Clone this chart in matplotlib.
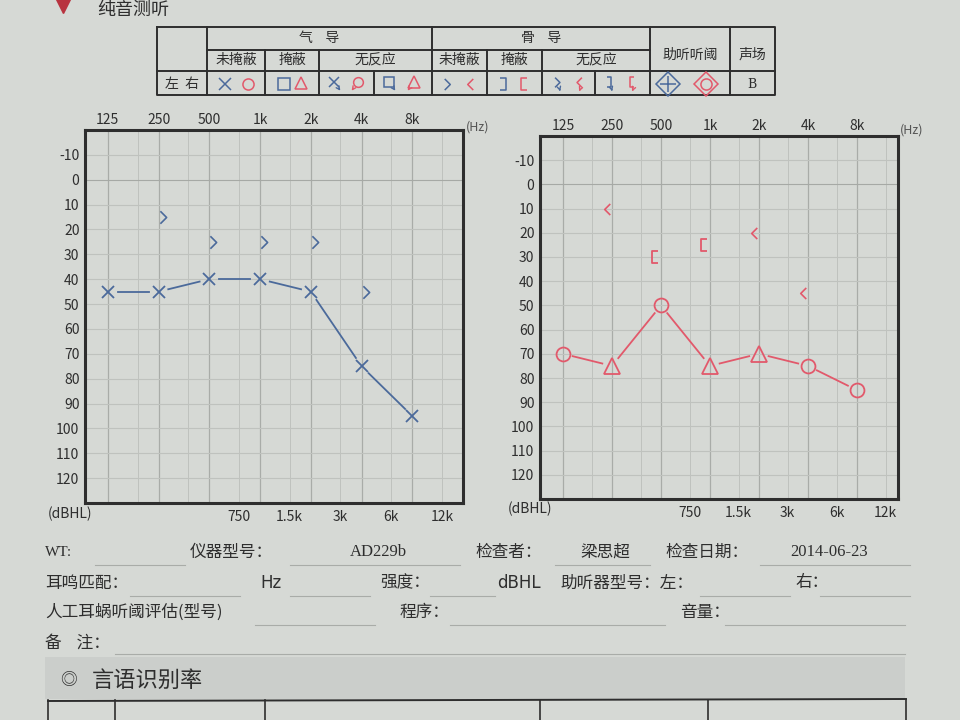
import numpy as np
import matplotlib.pyplot as plt
from matplotlib.path import Path
from matplotlib.transforms import offset_copy

plt.rcParams['font.family'] = ['Noto Sans CJK SC', 'DejaVu Sans']

# ---- data ----
freq_top = [125, 250, 500, 1000, 2000, 4000, 8000]
freq_top_labels = ['125', '250', '500', '1k', '2k', '4k', '8k']
freq_bottom = [750, 1500, 3000, 6000, 12000]
freq_bottom_labels = ['750', '1.5k', '3k', '6k', '12k']
freq_minor_grid = [187.5, 375, 750, 1500, 3000, 6000, 12000]
db_ticks = list(range(-10, 130, 10))

# left ear (blue)
left_air_freq = [125, 250, 500, 1000, 2000, 4000, 8000]
left_air_db = [45, 45, 40, 40, 45, 75, 95]
left_bone_freq = [250, 500, 1000, 2000, 4000]
left_bone_db = [15, 25, 25, 25, 45]

# right ear (red)
right_air_freq = [125, 250, 500, 1000, 2000, 4000, 8000]
right_air_db = [70, 75, 50, 75, 70, 75, 85]
right_air_masked = [False, True, False, True, True, False, False]
right_bone_freq = [250, 2000, 4000]
right_bone_db = [10, 20, 45]
right_bone_masked_freq = [500, 1000]
right_bone_masked_db = [30, 25]

BG = '#d6d9d5'
BLUE = '#4b6a9b'
RED = '#e2596b'
INK = '#2e2e2e'

# open marker shapes
chev_right = Path([(-0.5, 1), (0.5, 0), (-0.5, -1)])
chev_left = Path([(0.5, 1), (-0.5, 0), (0.5, -1)])
brack_left = Path([(0.5, 1), (-0.5, 1), (-0.5, -1), (0.5, -1)])
brack_right = Path([(-0.5, 1), (0.5, 1), (0.5, -1), (-0.5, -1)])

fig = plt.figure(figsize=(9.6, 7.2), dpi=100, facecolor=BG)

# page axes in pixel coordinates (y down)
pg = fig.add_axes([0, 0, 1, 1])
pg.set_xlim(0, 960)
pg.set_ylim(720, 0)
pg.axis('off')


def px_axes(x0, y0, x1, y1):
    return fig.add_axes([x0 / 960, 1 - y1 / 720, (x1 - x0) / 960, (y1 - y0) / 720])


def gapped_line(ax, xs, ys, gap, **kw):
    pts = ax.transData.transform(np.column_stack([xs, ys]))
    inv = ax.transData.inverted()
    for p, q in zip(pts[:-1], pts[1:]):
        d = q - p
        n = np.hypot(d[0], d[1])
        seg = inv.transform([p + d * gap / n, q - d * gap / n])
        ax.plot(seg[:, 0], seg[:, 1], **kw)


def setup_audiogram(ax, xmin, xmax):
    ax.set_facecolor(BG)
    ax.set_xscale('log', base=2)
    ax.set_xlim(xmin, xmax)
    ax.set_ylim(130, -20)
    for f in freq_top:
        ax.axvline(f, color='#a9aca8', lw=0.9, zorder=0)
    for f in freq_minor_grid:
        ax.axvline(f, color='#bfc2be', lw=0.7, zorder=0)
    for d in range(-10, 130, 10):
        ax.axhline(d, color='#a6a9a5' if d == 0 else '#bfc2be', lw=0.8, zorder=0)
    ax.set_xticks(freq_top, freq_top_labels)
    ax.set_xticks(freq_bottom, freq_bottom_labels, minor=True)
    ax.set_yticks(db_ticks, [str(d) for d in db_ticks])
    ax.tick_params(axis='x', which='major', top=False, bottom=False,
                   labeltop=True, labelbottom=False, pad=-1, labelsize=10, labelcolor=INK)
    ax.tick_params(axis='x', which='minor', top=False, bottom=False,
                   labeltop=False, labelbottom=True, pad=3, labelsize=10, labelcolor=INK)
    ax.tick_params(axis='y', length=0, pad=4, labelsize=10, labelcolor=INK)
    for s in ax.spines.values():
        s.set_color(INK)
        s.set_linewidth(2.2)


# ---- left ear audiogram ----
axL = px_axes(85, 130, 463, 503)
setup_audiogram(axL, 125 * 2 ** -0.45, 16000)
gapped_line(axL, left_air_freq, left_air_db, 10, color=BLUE, lw=1.3)
axL.plot(left_air_freq, left_air_db, ls='none', marker='x', ms=9, mew=1.3, color=BLUE)
shiftR = offset_copy(axL.transData, fig=fig, x=4, y=0, units='dots')
axL.plot(left_bone_freq, left_bone_db, ls='none', marker=chev_right, ms=9,
         mfc='none', mew=1.2, color=BLUE, transform=shiftR)
pg.text(466, 127, '(Hz)', fontsize=9, color='#555', va='center')
pg.text(48, 514, '(dBHL)', fontsize=10, color=INK, va='center')

# ---- right ear audiogram ----
axR = px_axes(540, 136, 898, 499)
setup_audiogram(axR, 125 * 2 ** -0.47, 8000 * 2 ** 0.84)
gapped_line(axR, right_air_freq, right_air_db, 10, color=RED, lw=1.3)
mask = np.array(right_air_masked)
fr = np.array(right_air_freq)
dr = np.array(right_air_db)
axR.plot(fr[~mask], dr[~mask], ls='none', marker='o', ms=10, mfc='none', mew=1.3, color=RED)
axR.plot(fr[mask], dr[mask], ls='none', marker='^', ms=11, mfc='none', mew=1.3, color=RED)
shiftL = offset_copy(axR.transData, fig=fig, x=-5, y=0, units='dots')
axR.plot(right_bone_freq, right_bone_db, ls='none', marker=chev_left, ms=8,
         mfc='none', mew=1.2, color=RED, transform=shiftL)
shiftL2 = offset_copy(axR.transData, fig=fig, x=-6, y=0, units='dots')
axR.plot(right_bone_masked_freq, right_bone_masked_db, ls='none', marker=brack_left, ms=9,
         mfc='none', mew=1.3, color=RED, transform=shiftL2)
pg.text(900, 130, '(Hz)', fontsize=9, color='#555', va='center')
pg.text(508, 509, '(dBHL)', fontsize=10, color=INK, va='center')

# ---- header fragment ----
pg.plot([63], [5], marker='v', ms=12, color='#b8333f')
pg.text(97, 1, '纯音测听', fontsize=13, color=INK, va='top')

# ---- symbol legend table ----
tx0, tx1, ty0, tyh, tys, ty1 = 157, 775, 27, 50, 71, 95
tk = dict(color=INK, lw=1.4)
pg.plot([tx0, tx1, tx1, tx0, tx0], [ty0, ty0, ty1, ty1, ty0], **tk)
for xv in [207, 432, 650, 730]:
    pg.plot([xv, xv], [ty0, ty1], **tk)
for xv in [265, 319, 487, 542]:
    pg.plot([xv, xv], [tyh, ty1], **tk)
for xv in [374, 595]:
    pg.plot([xv, xv], [tys, ty1], **tk)
pg.plot([207, 650], [tyh, tyh], **tk)
pg.plot([tx0, tx1], [tys, tys], **tk)

hdr = dict(fontsize=10, color=INK, ha='center', va='center')
pg.text(319, 38, '气    导', **hdr)
pg.text(541, 38, '骨    导', **hdr)
for xc, s in [(236, '未掩蔽'), (292, '掩蔽'), (375, '无反应'),
              (459, '未掩蔽'), (514, '掩蔽'), (596, '无反应')]:
    pg.text(xc, 60, s, **hdr)
pg.text(690, 55, '助听听阈', **hdr)
pg.text(752, 55, '声场', **hdr)
pg.text(182, 84, '左  右', **hdr)
pg.text(752, 85, 'B', fontsize=9, color=INK, ha='center', va='center', family='DejaVu Serif')

sy = 84
sym = dict(ls='none', mfc='none', mew=1.1)
pg.plot([225], [sy], marker='x', ms=8, color=BLUE, **sym)
pg.plot([248], [sy], marker='o', ms=8, color=RED, **sym)
pg.plot([284], [sy], marker='s', ms=8, color=BLUE, **sym)
pg.plot([301], [sy - 1], marker='^', ms=9, color=RED, **sym)
pg.plot([334], [sy - 2], marker='x', ms=7, color=BLUE, **sym)
pg.plot([358], [sy - 2], marker='o', ms=7, color=RED, **sym)
pg.plot([389], [sy - 2], marker='s', ms=7, color=BLUE, **sym)
pg.plot([414], [sy - 2], marker='^', ms=8, color=RED, **sym)
pg.plot([447], [sy], marker=chev_right, ms=8, color=BLUE, **sym)
pg.plot([470], [sy], marker=chev_left, ms=8, color=RED, **sym)
pg.plot([503], [sy], marker=brack_right, ms=8, color=BLUE, **sym)
pg.plot([524], [sy], marker=brack_left, ms=8, color=RED, **sym)
pg.plot([557], [sy - 2], marker=chev_right, ms=7, color=BLUE, **sym)
pg.plot([579], [sy - 2], marker=chev_left, ms=7, color=RED, **sym)
pg.plot([609], [sy - 2], marker=brack_right, ms=7, color=BLUE, **sym)
pg.plot([632], [sy - 2], marker=brack_left, ms=7, color=RED, **sym)
# no-response arrows
for (xa, ya, dx, c) in [(337, sy + 2, 5, BLUE), (355, sy + 2, -5, RED),
                         (392, sy + 2, 5, BLUE), (411, sy + 2, -5, RED),
                         (559, sy + 3, 2, BLUE), (581, sy + 3, -3, RED),
                         (611, sy + 3, 2, BLUE), (634, sy + 3, -3, RED)]:
    pg.annotate('', xy=(xa + dx, ya + 7), xytext=(xa, ya),
                arrowprops=dict(arrowstyle='->', color=c, lw=1.0, mutation_scale=6))
# aided thresholds
pg.plot([668], [sy], marker='D', ms=12, color=BLUE, **sym)
pg.plot([668], [sy], marker='+', ms=12, color=BLUE, **sym)
pg.plot([706], [sy], marker='D', ms=12, color=RED, **sym)
pg.plot([706], [sy], marker='o', ms=8, color=RED, **sym)

# ---- form fields ----
lab = dict(fontsize=12, color=INK, va='center')
val = dict(fontsize=12, color=INK, va='center', family='Liberation Serif')
uline = dict(color='#a9aca8', lw=0.8)

pg.text(45, 552, 'WT:', fontsize=11, color=INK, va='center', family='Liberation Serif')
pg.text(190, 552, '仪器型号：', **lab)
pg.text(350, 552, 'AD229b', **val)
pg.text(475, 552, '检查者：', **lab)
pg.text(580, 552, '梁思超', **lab)
pg.text(665, 552, '检查日期：', **lab)
pg.text(790, 552, '2014-06-23', **val)
for a, b in [(95, 185), (290, 460), (555, 650), (760, 910)]:
    pg.plot([a, b], [565, 565], **uline)

pg.text(45, 583, '耳鸣匹配：', **lab)
pg.text(260, 583, 'Hz', fontsize=12, color=INK, va='center', family='DejaVu Sans')
pg.text(380, 583, '强度：', **lab)
pg.text(497, 583, 'dBHL', fontsize=12, color=INK, va='center', family='DejaVu Sans')
pg.text(560, 583, '助听器型号：左：', **lab)
pg.text(795, 583, '右：', **lab)
for a, b in [(130, 240), (290, 370), (430, 495), (700, 790), (820, 910)]:
    pg.plot([a, b], [596, 596], **uline)

pg.text(45, 612, '人工耳蜗听阈评估(型号)', **lab)
pg.text(400, 612, '程序：', **lab)
pg.text(680, 612, '音量：', **lab)
for a, b in [(255, 375), (450, 665), (725, 905)]:
    pg.plot([a, b], [625, 625], **uline)

pg.text(45, 643, '备    注：', **lab)
pg.plot([115, 905], [654, 654], **uline)

# ---- speech recognition section ----
pg.add_patch(plt.Rectangle((45, 657), 860, 42, color='#cbcecb', lw=0))
pg.text(68, 680, '◎', fontsize=12, color=INK, ha='center', va='center')
pg.text(92, 680, '言语识别率', fontsize=16, color=INK, va='center')
pg.plot([48, 906], [701, 699], color=INK, lw=1.4)
for xv in [48, 115, 265, 540, 708, 906]:
    pg.plot([xv, xv], [700, 722], color=INK, lw=1.2)

fig.savefig('out.png', dpi=100, facecolor=BG)
